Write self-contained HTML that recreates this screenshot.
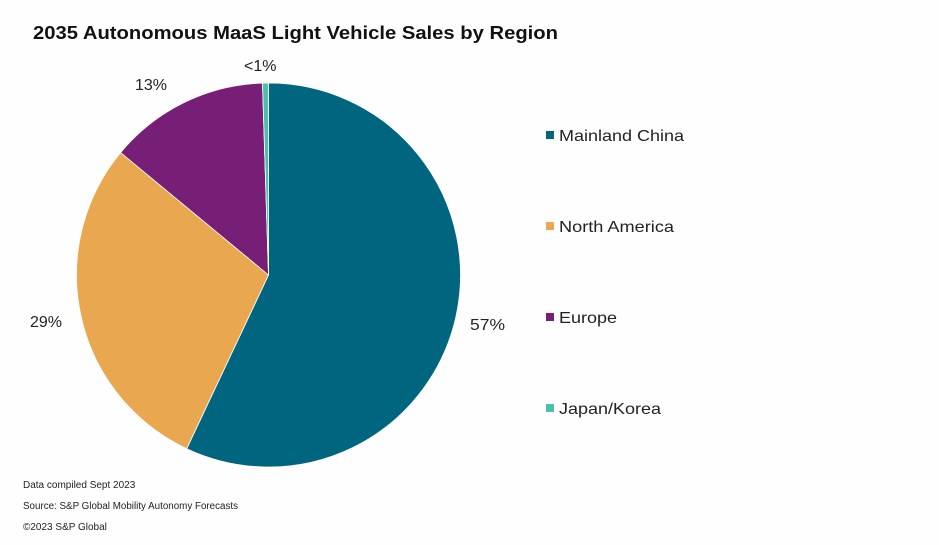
<!DOCTYPE html>
<html><head><meta charset="utf-8"><style>
body{margin:0;background:#fff;}
svg{display:block;font-family:"Liberation Sans",Arial,sans-serif;}
</style></head><body>
<svg width="939" height="545" viewBox="0 0 939 545">
<rect width="939" height="545" fill="#fefefe"/>
<text x="33" y="39" font-size="18" font-weight="bold" fill="#111" textLength="525" lengthAdjust="spacingAndGlyphs">2035 Autonomous MaaS Light Vehicle Sales by Region</text>
<g stroke="#fff" stroke-width="0.8">
<path d="M268.5,275 L268.5,83 A192,192 0 1,1 186.7,448.7 Z" fill="#006680"/>
<path d="M268.5,275 L186.7,448.7 A192,192 0 0,1 120.6,152.6 Z" fill="#E9A84F"/>
<path d="M268.5,275 L120.6,152.6 A192,192 0 0,1 262.5,83.1 Z" fill="#771E77"/>
<path d="M268.5,275 L262.5,83.1 A192,192 0 0,1 268.5,83 Z" fill="#4EBFAE"/>
</g>
<g font-size="16" fill="#222">
<text x="244" y="71">&lt;1%</text>
<text x="135" y="90">13%</text>
<text x="30" y="327">29%</text>
<text x="470" y="330" textLength="35" lengthAdjust="spacingAndGlyphs">57%</text>
</g>
<g font-size="16" fill="#222">
<rect x="546" y="131" width="8" height="8" fill="#006680"/><text x="559" y="141" textLength="125" lengthAdjust="spacingAndGlyphs">Mainland China</text>
<rect x="546" y="222" width="8" height="8" fill="#E9A84F"/><text x="559" y="232" textLength="115" lengthAdjust="spacingAndGlyphs">North America</text>
<rect x="546" y="313" width="8" height="8" fill="#771E77"/><text x="559" y="323" textLength="58" lengthAdjust="spacingAndGlyphs">Europe</text>
<rect x="546" y="404" width="8" height="8" fill="#4EBFAE"/><text x="559" y="414" textLength="102" lengthAdjust="spacingAndGlyphs">Japan/Korea</text>
</g>
<g font-size="10" fill="#222">
<text x="23" y="488">Data compiled Sept 2023</text>
<text x="23" y="509" textLength="215" lengthAdjust="spacingAndGlyphs">Source: S&amp;P Global Mobility Autonomy Forecasts</text>
<text x="23" y="530">©2023 S&amp;P Global</text>
</g>
</svg>
</body></html>
